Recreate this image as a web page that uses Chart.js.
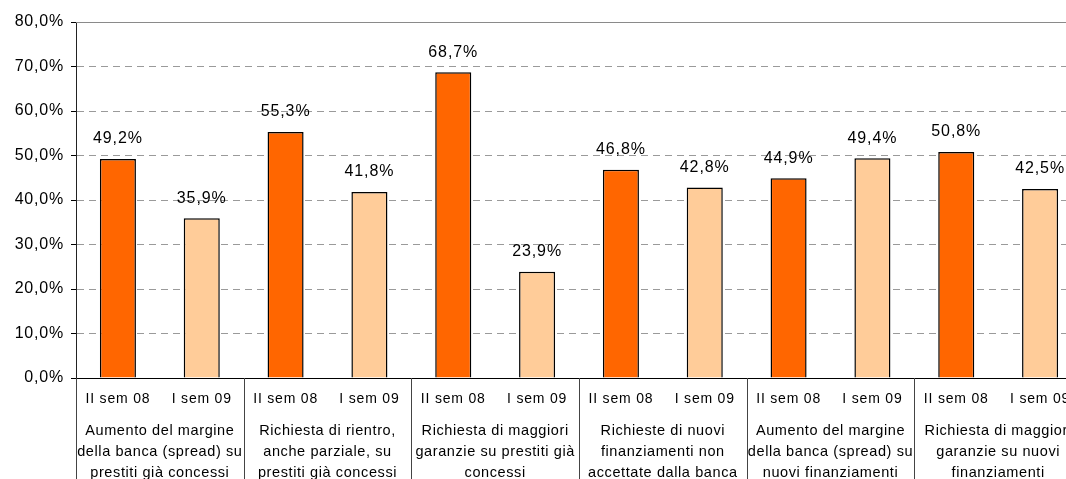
<!DOCTYPE html>
<html>
<head>
<meta charset="utf-8">
<script src="https://cdn.jsdelivr.net/npm/chart.js@4/dist/chart.umd.min.js"></script>
<style>
  html, body { margin: 0; padding: 0; background: #fff; overflow: hidden; }
  #wrap { width: 1082px; height: 479px; position: relative; }
</style>
</head>
<body>
<div id="wrap"><canvas id="c"></canvas></div>
<script>
// Periods shown under each bar
const periods = ['II sem 08', 'I sem 09', 'II sem 08', 'I sem 09', 'II sem 08', 'I sem 09',
                 'II sem 08', 'I sem 09', 'II sem 08', 'I sem 09', 'II sem 08', 'I sem 09'];
// Bank behaviour groups, one per pair of bars
const groups = [
  ['Aumento del margine', 'della banca (spread) su', 'prestiti già concessi'],
  ['Richiesta di rientro,', 'anche parziale, su', 'prestiti già concessi'],
  ['Richiesta di maggiori', 'garanzie su prestiti già', 'concessi'],
  ['Richieste di nuovi', 'finanziamenti non', 'accettate dalla banca'],
  ['Aumento del margine', 'della banca (spread) su', 'nuovi finanziamenti'],
  ['Richiesta di maggiori', 'garanzie su nuovi', 'finanziamenti']
];
// Share of firms (%)
const values = [49.2, 35.9, 55.3, 41.8, 68.7, 23.9, 46.8, 42.8, 44.9, 49.4, 50.8, 42.5];
const yTicks = [0, 10, 20, 30, 40, 50, 60, 70, 80];

const FONT = 'Liberation Sans, Arial, sans-serif';
const fmt = v => v.toFixed(1).replace('.', ',') + '%';

const decorations = {
  id: 'decorations',
  beforeDraw(chart) {
    chart.ctx.letterSpacing = '0.8px';
  },
  afterDatasetsDraw(chart) {
    const ctx = chart.ctx;
    const meta = chart.getDatasetMeta(0);
    ctx.save();
    ctx.letterSpacing = '0.9px';
    ctx.font = '16px ' + FONT;
    ctx.fillStyle = '#000';
    ctx.textAlign = 'center';
    ctx.textBaseline = 'middle';
    meta.data.forEach((bar, i) => {
      ctx.fillText(fmt(values[i]), bar.x, bar.y - 20);
    });
    ctx.restore();
  },
  afterDraw(chart) {
    const ctx = chart.ctx;
    const x = chart.scales.x;
    const area = chart.chartArea;
    ctx.save();
    // solid top line at the axis maximum
    ctx.strokeStyle = '#8a8a8a';
    ctx.lineWidth = 1;
    ctx.beginPath();
    ctx.moveTo(area.left, Math.round(area.top) + 0.5);
    ctx.lineTo(area.right, Math.round(area.top) + 0.5);
    ctx.stroke();
    // group separators below the axis
    const bounds = [area.left];
    for (let k = 1; k < groups.length; k++) {
      bounds.push((x.getPixelForValue(2 * k - 1) + x.getPixelForValue(2 * k)) / 2);
    }
    bounds.push(area.right);
    ctx.strokeStyle = '#444';
    bounds.forEach(b => {
      const bx = Math.round(b) + 0.5;
      ctx.beginPath();
      ctx.moveTo(bx, area.bottom);
      ctx.lineTo(bx, chart.height);
      ctx.stroke();
    });
    // group labels
    ctx.letterSpacing = '0.6px';
    ctx.font = '14.5px ' + FONT;
    ctx.fillStyle = '#000';
    ctx.textAlign = 'center';
    ctx.textBaseline = 'middle';
    groups.forEach((lines, k) => {
      const cx = (x.getPixelForValue(2 * k) + x.getPixelForValue(2 * k + 1)) / 2;
      lines.forEach((t, j) => ctx.fillText(t, cx, area.bottom + 53 + j * 21));
    });
    ctx.restore();
  }
};

new Chart(document.getElementById('c'), {
  type: 'bar',
  data: {
    labels: periods,
    datasets: [{
      data: values,
      backgroundColor: values.map((v, i) => i % 2 === 0 ? '#FF6600' : '#FFCC99'),
      borderColor: '#000',
      borderWidth: 1.5,
      borderSkipped: 'bottom',
      barPercentage: 0.43,
      categoryPercentage: 1
    }]
  },
  options: {
    responsive: true,
    maintainAspectRatio: false,
    animation: false,
    layout: { padding: { top: 22, left: 0, right: 0, bottom: 0 } },
    plugins: { legend: { display: false }, tooltip: { enabled: false } },
    scales: {
      x: {
        offset: true,
        grid: { display: true, drawOnChartArea: false, drawTicks: false },
        border: { display: true, color: '#000', width: 1 },
        ticks: {
          color: '#000',
          font: { family: FONT, size: 14 },
          padding: 13,
          maxRotation: 0,
          autoSkip: false
        },
        afterFit(scale) { scale.height = 101; }
      },
      y: {
        min: 0,
        max: 80,
        afterBuildTicks(scale) { scale.ticks = yTicks.map(v => ({ value: v })); },
        grid: { color: '#9a9a9a', tickColor: '#000', tickLength: 5 },
        border: { display: true, color: '#222', width: 1, dash: [7, 5] },
        ticks: {
          color: '#000',
          font: { family: FONT, size: 16 },
          padding: 7,
          callback: v => fmt(v)
        },
        afterFit(scale) { scale.width = 76; }
      }
    }
  },
  plugins: [decorations]
});
</script>
</body>
</html>
